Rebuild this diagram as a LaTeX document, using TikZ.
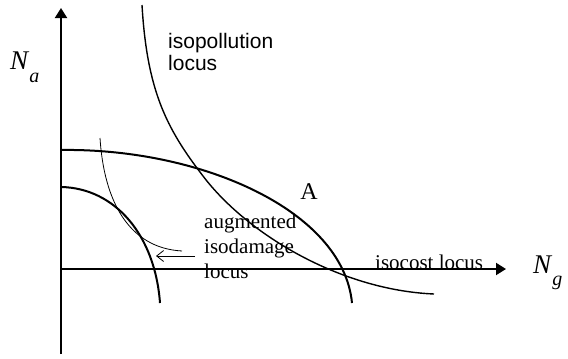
\documentclass[tikz,border=0pt]{standalone}
\usepackage{fontspec}
\setmainfont{Liberation Serif}
\newfontfamily\labelsans{Liberation Sans}
\usepackage{tikz}
\usetikzlibrary{arrows.meta,positioning}

\tikzset{
    axisline/.style={line width=2pt, -{Triangle[length=10pt,width=12pt]}},
    boldcurve/.style={line width=2pt},
    midcurve/.style={line width=1.4pt},
    thincurve/.style={line width=0.8pt},
    seriflabel/.style={font=\fontsize{21}{25}\selectfont, inner sep=0pt, align=left},
    sanslabel/.style={font=\labelsans\fontsize{21}{22.5}\selectfont, inner sep=0pt, align=left},
    axislabel/.style={font=\fontsize{27}{27}\selectfont, inner sep=0pt}
}

\begin{document}
\begin{tikzpicture}[x=1pt,y=-1pt]
            \useasboundingbox (0,0) rectangle (568,359);
            \coordinate (origin) at (61,269);
            \coordinate (ytop) at (61,8);
            \coordinate (ybottom) at (61,354);
            \coordinate (xend) at (506,269);
            \draw[line width=2pt] (ybottom) -- (origin);
            \draw[axisline] (origin) -- (ytop);
            \draw[axisline] (origin) -- (xend);

            \node[axislabel, anchor=base west] (nalabel) at (10,69)
                {\textit{N}\raisebox{-13pt}{\fontsize{20}{20}\selectfont\textit{a}}};
            \node[axislabel, anchor=base west] (nglabel) at (533,273)
                {\textit{N}\raisebox{-12pt}{\fontsize{20}{20}\selectfont\textit{g}}};

            \draw[boldcurve] (61,150) .. controls (200,148) and (343,210) .. (352,303);
            \draw[boldcurve] (61,187) .. controls (115,188) and (155,235) .. (160,303);
            \draw[thincurve] (100,138) .. controls (104,200) and (128,248) .. (182,251);
            \draw[midcurve] (142,5) .. controls (147,90) and (166,128) .. (203,176)
                .. controls (247,234) and (340,290) .. (434,294);

            \node[sanslabel, anchor=north west] (isopollution) at (168,33) {isopollution\\locus};
            \node[seriflabel, anchor=north west] (augmented) at (204,214) {augmented\\isodamage\\locus};
            \node[seriflabel, anchor=base west] (isocost) at (375,269) {isocost locus};
            \node[seriflabel, font=\fontsize{24}{24}\selectfont] (pointa) at (309,192) {A};

            \coordinate (arrowstart) at (195,256);
            \coordinate (arrowend) at (156,256);
            \draw[thincurve, -{Straight Barb[length=7pt,width=11pt]}] (arrowstart) -- (arrowend);
        \end{tikzpicture}
\end{document}
